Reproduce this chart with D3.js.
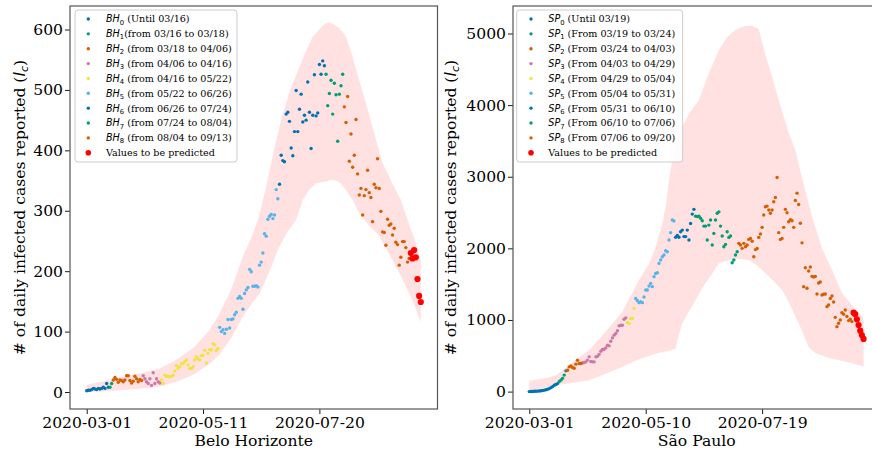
<!DOCTYPE html>
<html><head><meta charset="utf-8">
<script src="https://cdn.jsdelivr.net/npm/d3@7"></script>
<style>body{margin:0;background:#fff}svg{display:block}</style>
</head><body>
<svg id="c" width="872" height="453"></svg>
<script>
// ---------------- DATA ----------------
const segColors = ["#0072B2","#009E73","#D55E00","#CC79A7","#F0E442","#56B4E9","#0072B2","#009E73","#D55E00"];
const predColor = "#ff0000";

// Belo Horizonte
const bhSegStart = [0,14,16,34,45,80,116,144,155];
const bh0 = [2,3,3,4,6,5,4,6,5,6,8,6,14,8];
const bh1 = [8,14];
const bh2 = [20,24,21,16,20,19,17,20,27,27,19,15,18,26,22,17,21,19];
const bh3 = [27,22,17,14,22,11,32,14,22,17,15];
const bh4 = [20,14,28,26,26,25,26,28,35,44,39,42,47,47,50,53,45,39,39,42,53,58,55,53,60,61,69,48,64,70,70,80,78,69,72];
const bh5 = [107,100,103,97,104,120,106,120,121,128,132,155,158,155,137,163,169,173,203,199,175,175,176,174,210,215,230,262,258,286,291,294,287,293,335,320];
const bh6 = [344,392,383,381,460,463,448,404,391,431,499,431,468,493,447,458,450,513,463,403,458,525,457,462,542,526,548,540];
const bh7 = [526,474,494,516,460,511,492,415,493,507,526];
const bh8 = [472,446,489,382,427,372,392,451,361,326,337,293,325,335,367,330,322,282,344,338,386,337,299,265,264,243,286,276,278,260,271,248,244,210,223,249,249,239,215,221];
const bhPredStart = 195;
const bhPred = [230,221,235,223,187,159,149];
const bhUpperDays = [0,10,20,30,44,55,65,74,80,87,94,99,103,108,113,118,123,128,132,136,140,143,146,149,152,156,160,164,168,173,178,183,189,193,197,201];
const bhUpper     = [12,18,25,30,39,55,75,103,130,170,225,255,285,340,405,461,505,538,565,588,600,609,612,608,602,588,555,515,478,428,379,350,318,285,255,218];
const bhLowerDays = [0,10,20,30,44,55,65,74,80,87,94,99,104,110,115,120,126,130,134,138,143,147,150,153,156,160,164,170,175,180,186,192,197,201];
const bhLower     = [0,1,3,5,9,18,30,47,62,90,125,145,163,200,235,262,285,318,335,345,348,351,350,345,334,318,296,275,262,238,208,175,145,116];
const bhLegend = [
  ["BH","0"," (Until 03/16)"],["BH","1","(from 03/16 to 03/18)"],["BH","2"," (from 03/18 to 04/06)"],
  ["BH","3"," (from 04/06 to 04/16)"],["BH","4"," (from 04/16 to 05/22)"],["BH","5"," (from 05/22 to 06/26)"],
  ["BH","6"," (from 06/26 to 07/24)"],["BH","7"," (from 07/24 to 08/04)"],["BH","8"," (from 08/04 to 09/13)"]];
const bhXTickDays = [0,70,140];
const bhXTickLabels = ["2020-03-01","2020-05-11","2020-07-20"];
const bhYTicks = [0,100,200,300,400,500,600];

// São Paulo
const spSegStart = [0,18,23,33,59,64,88,100,126];
const sp0 = [0,1,2,4,5,7,9,12,16,20,25,32,42,55,70,88,100,112];
const sp1 = [140,160,185,230,290];
const sp2 = [299,345,359,336,327,383,438,392,392,401];
const sp3 = [406,415,440,485,420,415,415,485,494,520,564,587,592,610,648,639,704,750,788,811,850,918,927,927,1010,1029];
const sp4 = [965,950,1020,1020,1160];
const sp5 = [1300,1270,1242,1255,1242,1320,1418,1418,1474,1511,1465,1605,1650,1660,1790,1837,1883,1907,1967,1953,2116,2219,2396,2382];
const sp6 = [2155,2180,2155,2232,2255,2164,2164,2255,2116,2348,2478,2545];
const sp7 = [2450,2445,2450,2420,2385,2311,2311,2116,2325,2395,2046,2209,2395,2490,2510,2311,2172,2022,2055,2232,2153,2172,1800,1837,1907,1953];
const sp8 = [2070,2046,2000,2070,2022,2046,2125,2139,2100,1883,1983,1999,2153,2200,2293,2465,2580,2590,2535,2490,2535,2650,2711,2990,2219,2125,2139,2293,2545,2497,2372,2400,2385,2293,2669,2771,2613,2350,2077,1465,1730,1442,1683,1739,1609,1600,1609,1363,1516,1530,1349,1360,1363,1186,1209,1300,1335,1250,1037,907,954,1000,1102,1080,1140,1050,991,1010,977];
const spPredStart = 195;
const spPred = [1102,1083,1009,930,851,790,735];
const spUpperDays = [0,10,16,25,36,46,56,66,72,76,80,82,84,87,91,96,102,108,114,119,124,129,134,138,142,146,150,156,160,164,170,176,182,188,195,201];
const spUpper     = [150,190,225,390,581,840,1116,1558,1780,2024,2350,2582,2954,3373,3650,3880,4070,4450,4770,4950,5050,5100,5110,5060,4700,4400,4070,3610,3373,2990,2450,2000,1700,1380,1180,1020];
const spLowerDays = [0,16,25,36,46,56,66,76,84,88,90,92,96,100,105,110,114,120,126,132,137,142,147,152,156,160,164,168,172,180,190,201];
const spLower     = [0,90,120,160,250,347,450,530,570,600,800,953,1120,1279,1480,1650,1791,1838,1850,1838,1760,1652,1540,1419,1250,1047,850,620,540,470,420,350];
const spLegend = [
  ["SP","0"," (Until 03/19)"],["SP","1"," (From 03/19 to 03/24)"],["SP","2"," (From 03/24 to 04/03)"],
  ["SP","3"," (From 04/03 to 04/29)"],["SP","4"," (From 04/29 to 05/04)"],["SP","5"," (From 05/04 to 05/31)"],
  ["SP","6"," (From 05/31 to 06/10)"],["SP","7"," (From 06/10 to 07/06)"],["SP","8"," (From 07/06 to 09/20)"]];
const spXTickDays = [0,70,140];
const spXTickLabels = ["2020-03-01","2020-05-10","2020-07-19"];
const spYTicks = [0,1000,2000,3000,4000,5000];

// ---------------- DRAW ----------------
const svg = d3.select("#c");
const SERIF = "'DejaVu Serif', serif";
const SANS = "'DejaVu Sans', sans-serif";

function drawPanel(cfg){
  const g = svg.append("g");
  const x = d3.scaleLinear().domain(cfg.xDomain).range(cfg.xRange);
  const y = d3.scaleLinear().domain(cfg.yDomain).range([409, 6]);
  const clipId = "clip" + cfg.id;
  svg.append("clipPath").attr("id", clipId).append("rect")
    .attr("x", cfg.xRange[0]).attr("y", 6).attr("width", cfg.xRange[1]-cfg.xRange[0]).attr("height", 403);
  const plot = g.append("g").attr("clip-path", `url(#${clipId})`);

  // band polygon
  const poly = cfg.upperDays.map((d,i)=>[d, cfg.upper[i]])
    .concat(cfg.lowerDays.map((d,i)=>[d, cfg.lower[i]]).reverse());
  const line = d3.line().x(p=>x(p[0])).y(p=>y(p[1])).curve(d3.curveLinearClosed);
  plot.append("path").attr("d", line(poly)).attr("fill", "#ffe1e1").attr("stroke","none");

  // points
  const pts = [];
  cfg.segments.forEach((arr, s)=>{
    arr.forEach((v,i)=>pts.push({d: cfg.segStart[s]+i, v, c: segColors[s]}));
  });
  plot.selectAll("circle.p").data(pts).join("circle").attr("class","p")
    .attr("cx", p=>x(p.d)).attr("cy", p=>y(p.v)).attr("r", 1.7).attr("fill", p=>p.c);
  plot.selectAll("circle.r").data(cfg.pred).join("circle").attr("class","r")
    .attr("cx", (v,i)=>x(cfg.predStart+i)).attr("cy", v=>y(v)).attr("r", 3.1).attr("fill", predColor);

  // axes
  const ya = g.append("g").attr("transform", `translate(${cfg.xRange[0]},0)`)
    .call(d3.axisLeft(y).tickValues(cfg.yTicks).tickSize(5).tickPadding(2).tickFormat(d3.format("d")));
  const xa = g.append("g").attr("transform", `translate(0,409)`)
    .call(d3.axisBottom(x).tickValues(cfg.xTickDays).tickSize(5).tickPadding(2.5)
      .tickFormat((d,i)=>cfg.xTickLabels[i]));
  [ya, xa].forEach(a=>{
    a.select(".domain").remove();
    a.selectAll("text").attr("font-family", SERIF).attr("font-size", 15.6).attr("fill","#000");
    a.selectAll("line").attr("stroke","#000").attr("stroke-width",0.9);
  });

  // frame
  g.append("rect").attr("x", cfg.xRange[0]).attr("y", 6)
    .attr("width", cfg.xRange[1]-cfg.xRange[0]).attr("height", 403)
    .attr("fill","none").attr("stroke","#555").attr("stroke-width",1.2);

  // labels
  g.append("text").attr("x", (cfg.xRange[0]+cfg.xRange[1])/2).attr("y", 446)
    .attr("text-anchor","middle").attr("font-family", SERIF).attr("font-size", 15.6)
    .text(cfg.xlabel);
  const yl = g.append("text").attr("transform", `translate(${cfg.ylabelX},207.5) rotate(-90)`)
    .attr("text-anchor","middle").attr("font-family", SERIF).attr("font-size", 15.6);
  yl.append("tspan").text("# of daily infected cases reported (");
  yl.append("tspan").attr("font-family", SANS).attr("font-style","italic").text("I");
  yl.append("tspan").attr("font-family", SANS).attr("font-style","italic").attr("font-size", 11).attr("dy", 3).text("c");
  yl.append("tspan").attr("dy", -3).text(")");

  // legend
  const L = cfg.legend;
  const lg = g.append("g");
  lg.append("rect").attr("x", L.x).attr("y", 10).attr("width", L.w).attr("height", 152)
    .attr("rx", 3).attr("fill","#fff").attr("fill-opacity",0.85).attr("stroke","#cccccc").attr("stroke-width",1);
  const rows = cfg.legendRows.concat([null]);
  rows.forEach((r,i)=>{
    const yy = 19 + i*14.86;
    const isPred = r === null;
    lg.append("circle").attr("cx", L.mx).attr("cy", yy).attr("r", isPred ? 2.8 : 1.7)
      .attr("fill", isPred ? predColor : segColors[i]);
    const t = lg.append("text").attr("x", L.tx).attr("y", yy + 3.4)
      .attr("font-family", SERIF).attr("font-size", 9.6).attr("fill","#000");
    if (isPred) { t.text("Values to be predicted"); return; }
    t.append("tspan").attr("font-family", SANS).attr("font-style","italic").text(r[0]);
    t.append("tspan").attr("font-family", SANS).attr("font-size", 6.8).attr("dy", 2.2).text(r[1]);
    t.append("tspan").attr("dy", -2.2).text(r[2]);
  });
}

drawPanel({
  id: "L", xDomain: [-10.05, 211.05], xRange: [70, 437.5], yDomain: [-28.1, 638.9],
  segStart: bhSegStart, segments: [bh0,bh1,bh2,bh3,bh4,bh5,bh6,bh7,bh8],
  predStart: bhPredStart, pred: bhPred,
  upperDays: bhUpperDays, upper: bhUpper, lowerDays: bhLowerDays, lower: bhLower,
  yTicks: bhYTicks, xTickDays: bhXTickDays, xTickLabels: bhXTickLabels,
  xlabel: "Belo Horizonte", ylabelX: 25,
  legendRows: bhLegend, legend: {x: 75, w: 162, mx: 88.3, tx: 106}
});
drawPanel({
  id: "R", xDomain: [-9.8, 211.2], xRange: [513, 880.5], yDomain: [-243, 5384],
  segStart: spSegStart, segments: [sp0,sp1,sp2,sp3,sp4,sp5,sp6,sp7,sp8],
  predStart: spPredStart, pred: spPred,
  upperDays: spUpperDays, upper: spUpper, lowerDays: spLowerDays, lower: spLower,
  yTicks: spYTicks, xTickDays: spXTickDays, xTickLabels: spXTickLabels,
  xlabel: "São Paulo", ylabelX: 456,
  legendRows: spLegend, legend: {x: 516.7, w: 166, mx: 531, tx: 548.3}
});
</script>
</body></html>
